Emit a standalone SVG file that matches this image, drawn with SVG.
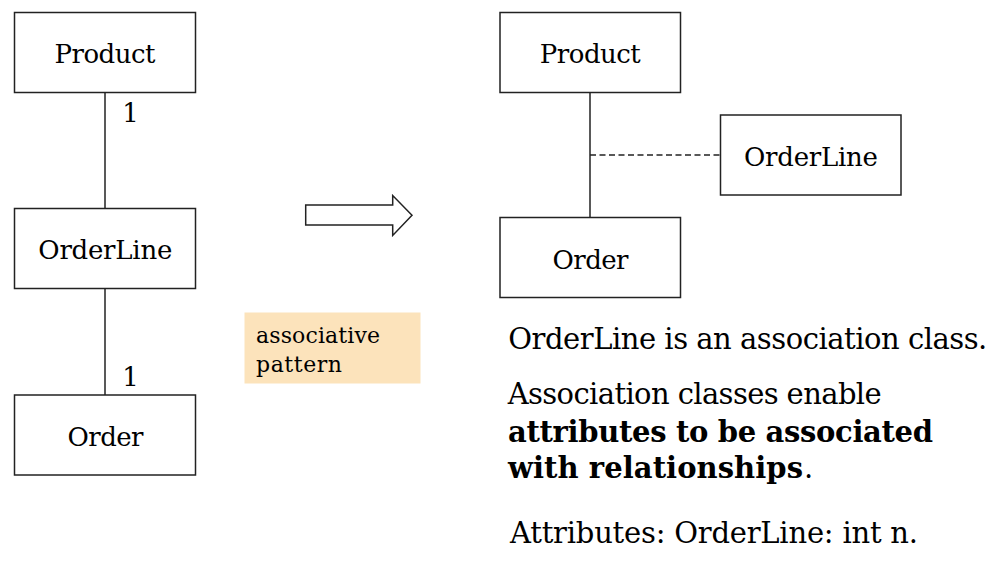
<svg xmlns="http://www.w3.org/2000/svg" width="991" height="570" viewBox="0 0 991 570">
<style>
.box{fill:#fff;stroke:#222;stroke-width:1.5}
.lbl{font-family:"DejaVu Serif","Liberation Serif",serif;font-size:26px;fill:#000;text-anchor:middle}
.txt{font-family:"DejaVu Serif","Liberation Serif",serif;font-size:29px;fill:#000}
.nt{font-family:"DejaVu Serif","Liberation Serif",serif;font-size:22px;fill:#000}
.b{font-weight:bold}
.ln{stroke:#222;stroke-width:1.5;fill:none}
</style>
<rect width="991" height="570" fill="#fff"/>
<g id="connectors">
<line class="ln" x1="105" y1="92.5" x2="105" y2="208.5"/>
<line class="ln" x1="105" y1="288.5" x2="105" y2="395"/>
<line class="ln" x1="590" y1="92.5" x2="590" y2="217.5"/>
<line class="ln" x1="590" y1="155" x2="720.5" y2="155" stroke-dasharray="6,3.5"/>
<text class="lbl" x="130.5" y="122">1</text>
<text class="lbl" x="130.5" y="386">1</text>
</g>
<g id="left-product"><rect class="box" x="14.5" y="12.5" width="181" height="80"/><text class="lbl" x="105" y="63" textLength="101">Product</text></g>
<g id="left-orderline"><rect class="box" x="14.5" y="208.5" width="181" height="80"/><text class="lbl" x="105.3" y="259" textLength="134">OrderLine</text></g>
<g id="left-order"><rect class="box" x="14.5" y="395" width="181" height="80"/><text class="lbl" x="105.5" y="445.5" textLength="76">Order</text></g>
<g id="transform-arrow"><polygon class="box" points="305.7,205 392.7,205 392.7,195.5 412,215.3 392.7,235.5 392.7,225 305.7,225"/></g>
<g id="note"><rect x="244.5" y="312.5" width="176" height="71" fill="#fce3bb"/>
<text class="nt" x="256" y="343" textLength="124">associative</text>
<text class="nt" x="256" y="372" textLength="86">pattern</text></g>
<g id="right-product"><rect class="box" x="500" y="12.5" width="180.5" height="80"/><text class="lbl" x="590.3" y="63" textLength="101">Product</text></g>
<g id="right-orderline"><rect class="box" x="720.5" y="115" width="180.5" height="80"/><text class="lbl" x="811" y="165.5" textLength="134">OrderLine</text></g>
<g id="right-order"><rect class="box" x="500" y="217.5" width="180.5" height="80"/><text class="lbl" x="590.5" y="269" textLength="76">Order</text></g>
<g id="description">
<text class="txt" x="508.3" y="349.3" textLength="479">OrderLine is an association class.</text>
<text class="txt" x="507.7" y="404.3" textLength="374">Association classes enable</text>
<text class="txt b" x="508" y="441.7" textLength="425">attributes to be associated</text>
<text class="txt b" x="508" y="478.3" textLength="295">with relationships</text>
<text class="txt" x="804" y="478.3">.</text>
<text class="txt" x="510" y="543.3" textLength="408">Attributes: OrderLine: int n.</text>
</g>
</svg>
